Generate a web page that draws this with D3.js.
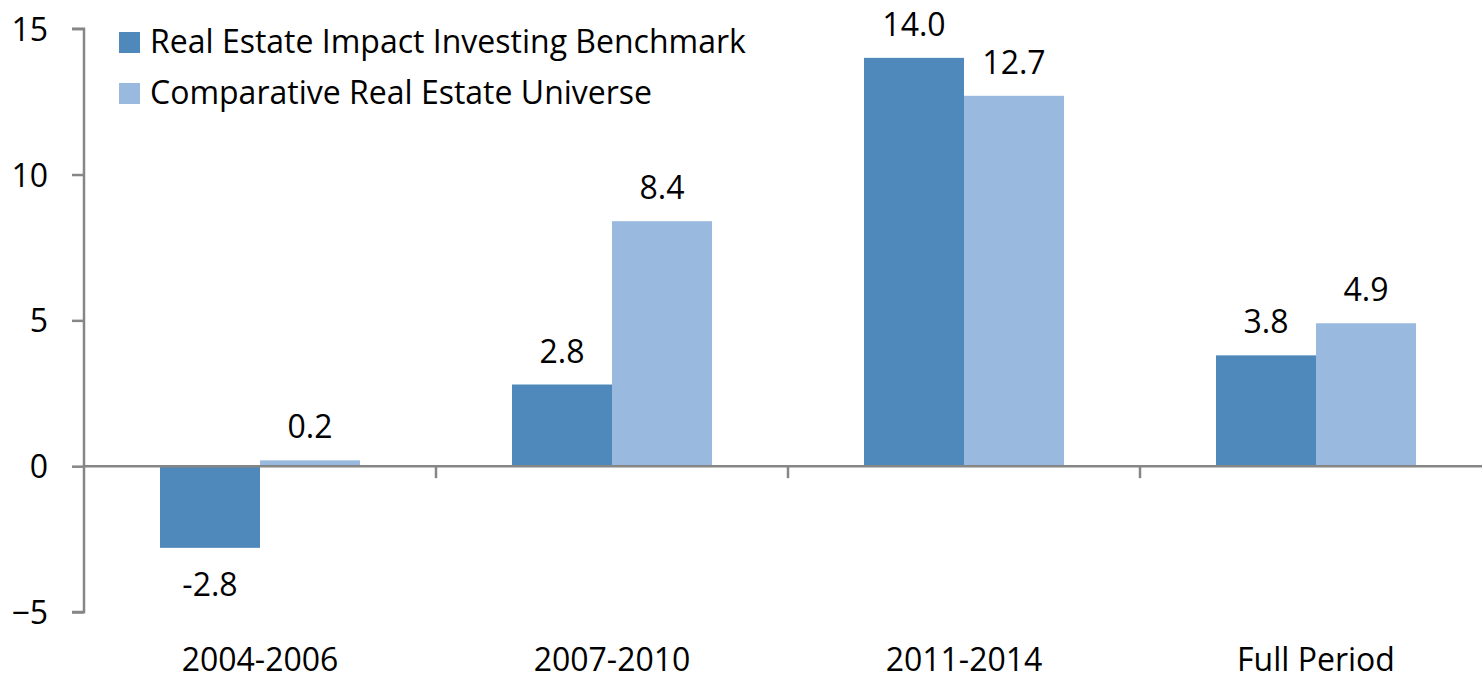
<!DOCTYPE html>
<html>
<head>
<meta charset="utf-8">
<script src="https://cdn.jsdelivr.net/npm/d3@7"></script>
<style>
  body { margin: 0; background: #fff; }
  svg { display: block; font-family: "Open Sans", Lato, sans-serif; }
</style>
</head>
<body>
<div id="chart"></div>
<script>
let CHART_WIDTH = 1482;
let CHART_HEIGHT = 677;

var categories = ["2004-2006", "2007-2010", "2011-2014", "Full Period"];
var seriesNames = ["Real Estate Impact Investing Benchmark", "Comparative Real Estate Universe"];
var benchmark = [-2.8, 2.8, 14.0, 3.8];
var universe = [0.2, 8.4, 12.7, 4.9];
var yTicks = [-5, 0, 5, 10, 15];
var colors = ["#4f89bb", "#99b9df"];

var FONT = "'Open Sans', Lato, sans-serif";
var FS = 32;
var axisColor = "#868686";
var plotLeft = 84, plotTop = 28.7, plotBottom = 612, band = 352;

var svg = d3.select("#chart").append("svg")
	.attr("width", CHART_WIDTH)
	.attr("height", CHART_HEIGHT);

var y = d3.scaleLinear().domain([-5, 15]).range([plotBottom, plotTop]);
var x = d3.scaleBand().domain(categories).range([plotLeft, plotLeft + band * 4]);
// two bars of ~100px centered in each band
var xInner = d3.scaleBand().domain([0, 1]).range([76, 276]);

// bars
var rows = categories.map(function (c, i) { return { cat: c, vals: [benchmark[i], universe[i]] }; });
var groups = svg.append("g").selectAll("g")
	.data(rows).enter().append("g")
	.attr("transform", d => "translate(" + x(d.cat) + ",0)");

groups.selectAll("rect")
	.data(d => d.vals.map((v, k) => ({ v: v, k: k })))
	.enter().append("rect")
	.attr("x", d => xInner(d.k))
	.attr("width", xInner.bandwidth())
	.attr("y", d => y(Math.max(0, d.v)))
	.attr("height", d => Math.abs(y(d.v) - y(0)))
	.attr("fill", d => colors[d.k]);

groups.selectAll("text")
	.data(d => d.vals.map((v, k) => ({ v: v, k: k })))
	.enter().append("text")
	.attr("x", d => xInner(d.k) + xInner.bandwidth() / 2)
	.attr("y", d => d.v >= 0 ? y(d.v) - 22 : y(d.v) + 48)
	.attr("text-anchor", "middle")
	.attr("font-size", FS)
	.attr("fill", "#000")
	.text(d => d.v.toFixed(1));

// y axis
var yAxis = svg.append("g")
	.attr("transform", "translate(" + plotLeft + ",0)")
	.call(d3.axisLeft(y).tickValues(yTicks).tickSize(12).tickPadding(24).tickFormat(d3.format("d")));
yAxis.select(".domain").attr("stroke", axisColor).attr("stroke-width", 2.5)
	.attr("d", "M-12," + plotTop + "H0V" + plotBottom + "H-12");
yAxis.selectAll(".tick line").attr("stroke", axisColor).attr("stroke-width", 2.5);
yAxis.selectAll(".tick text").attr("font-size", FS).attr("fill", "#000")
	.attr("font-family", FONT).attr("dy", "0.36em");

// x axis at zero
var xAxis = svg.append("g")
	.attr("transform", "translate(0," + y(0) + ")")
	.call(d3.axisBottom(x).tickSize(0).tickPadding(0));
xAxis.select(".domain").attr("stroke", axisColor).attr("stroke-width", 2.5)
	.attr("d", "M" + plotLeft + ",0H" + (plotLeft + band * 4));
xAxis.selectAll(".tick text")
	.attr("font-size", FS).attr("fill", "#000").attr("font-family", FONT)
	.attr("y", y(-5) - y(0) + 59).attr("dy", 0);
xAxis.selectAll(".sep")
	.data(categories.slice(1))
	.enter().append("line")
	.attr("class", "sep")
	.attr("x1", d => x(d)).attr("x2", d => x(d))
	.attr("y1", 0).attr("y2", 12)
	.attr("stroke", axisColor).attr("stroke-width", 2.5);

// legend
var legend = svg.append("g").selectAll("g")
	.data(seriesNames).enter().append("g")
	.attr("transform", (d, i) => "translate(119," + (32 + i * 51) + ")");
legend.append("rect").attr("width", 21).attr("height", 21).attr("fill", (d, i) => colors[i]);
legend.append("text")
	.attr("x", 31).attr("y", 21)
	.attr("font-size", FS).attr("fill", "#000")
	.text(d => d);
</script>
</body>
</html>
